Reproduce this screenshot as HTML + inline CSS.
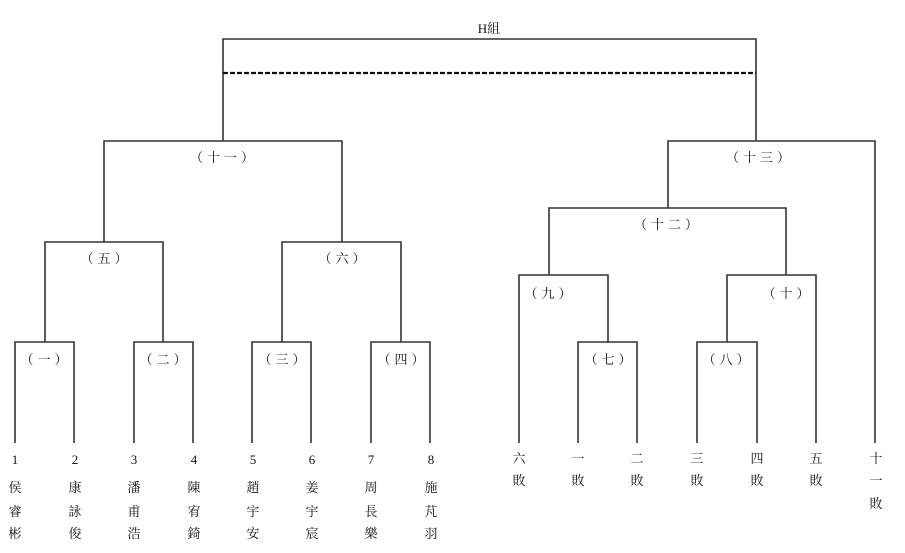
<!DOCTYPE html>
<html><head><meta charset="utf-8"><style>
html,body{margin:0;padding:0;background:#fff;width:905px;height:553px;overflow:hidden}
text{font-family:"Liberation Serif","Noto Serif CJK SC","Noto Sans CJK TC",serif;font-size:13px;fill:#111;text-anchor:middle}
.p{letter-spacing:4px}
</style></head><body>
<svg width="905" height="553" viewBox="0 0 905 553" xmlns="http://www.w3.org/2000/svg">
<g stroke="#333" stroke-width="1.6" fill="none">
<path d="M223 141V39H756V141"/>
<line x1="223" y1="73" x2="756" y2="73" stroke="#111" stroke-width="2.2" stroke-dasharray="5,2"/>
<path d="M104 242V141H342V242"/>
<path d="M45 342V242H163V342"/>
<path d="M282 342V242H401V342"/>
<path d="M15 443V342H74V443"/>
<path d="M134 443V342H193V443"/>
<path d="M252 443V342H311V443"/>
<path d="M371 443V342H430V443"/>
<path d="M668 208V141H875V443"/>
<path d="M549 275V208H786V275"/>
<path d="M519 443V275H608V342"/>
<path d="M727 342V275H816V443"/>
<path d="M578 443V342H637V443"/>
<path d="M697 443V342H757V443"/>
</g>
<text x="489" y="33" font-size="11">H組</text>
<text class="p" x="224" y="162">（十一）</text>
<text class="p" x="760" y="162">（十三）</text>
<text class="p" x="668" y="229">（十二）</text>
<text class="p" x="106" y="263">（五）</text>
<text class="p" x="344" y="263">（六）</text>
<text class="p" x="550" y="298">（九）</text>
<text class="p" x="788" y="298">（十）</text>
<text class="p" x="46" y="364">（一）</text>
<text class="p" x="165" y="364">（二）</text>
<text class="p" x="284" y="364">（三）</text>
<text class="p" x="403" y="364">（四）</text>
<text class="p" x="610" y="364">（七）</text>
<text class="p" x="728" y="364">（八）</text>
<g>
<text x="15" y="464">1</text><text x="75" y="464">2</text><text x="134" y="464">3</text><text x="194" y="464">4</text>
<text x="253" y="464">5</text><text x="312" y="464">6</text><text x="371" y="464">7</text><text x="431" y="464">8</text>
<text x="15" y="492">侯</text><text x="15" y="516">睿</text><text x="15" y="538">彬</text>
<text x="75" y="492">康</text><text x="75" y="516">詠</text><text x="75" y="538">俊</text>
<text x="134" y="492">潘</text><text x="134" y="516">甫</text><text x="134" y="538">浩</text>
<text x="194" y="492">陳</text><text x="194" y="516">宥</text><text x="194" y="538">錡</text>
<text x="253" y="492">趙</text><text x="253" y="516">宇</text><text x="253" y="538">安</text>
<text x="312" y="492">姜</text><text x="312" y="516">宇</text><text x="312" y="538">宸</text>
<text x="371" y="492">周</text><text x="371" y="516">長</text><text x="371" y="538">樂</text>
<text x="431" y="492">施</text><text x="431" y="516">芃</text><text x="431" y="538">羽</text>
<text x="519" y="463">六</text><text x="519" y="485">敗</text>
<text x="578" y="463">一</text><text x="578" y="485">敗</text>
<text x="637" y="463">二</text><text x="637" y="485">敗</text>
<text x="697" y="463">三</text><text x="697" y="485">敗</text>
<text x="757" y="463">四</text><text x="757" y="485">敗</text>
<text x="816" y="463">五</text><text x="816" y="485">敗</text>
<text x="876" y="463">十</text><text x="876" y="485">一</text><text x="876" y="508">敗</text>
</g>
</svg>
</body></html>
